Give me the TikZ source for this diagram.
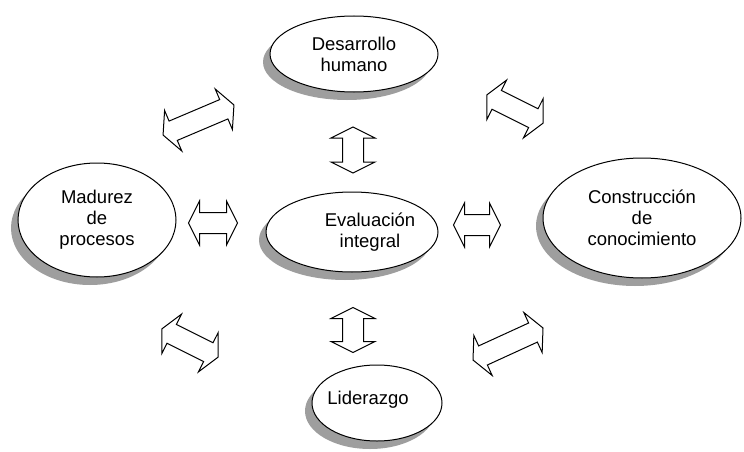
\documentclass[tikz,border=0pt]{standalone}
\usepackage{fontspec}
\setmainfont{Liberation Sans}
\usetikzlibrary{shapes.geometric,shadows}

\tikzset{
  bubble/.style={ellipse, draw=black, line width=1pt, fill=white, align=center,
    inner sep=0pt, font=\fontsize{18.5}{21}\selectfont,
    drop shadow={shadow xshift=-7pt, shadow yshift=-8pt, fill=black!38, opacity=1}},
  arrowline/.style={draw=black, line width=1pt, line join=miter, fill=white},
  % two-headed block arrow of length #1, centred on the pic origin
  pics/twoway/.style={code={
    \draw[arrowline] (-#1/2,0) -- ++(11,22) -- ++(0,-11.5) -- (#1/2-11,10.5)
      -- ++(0,11.5) -- (#1/2,0) -- ++(-11,-22) -- ++(0,11.5)
      -- (-#1/2+11,-10.5) -- ++(0,-11.5) -- cycle;
  }}
}

\begin{document}
\begin{tikzpicture}[x=1pt, y=-1pt]
\useasboundingbox (0,0) rectangle (744,452);

% the five themes
\node[bubble, minimum width=168pt, minimum height=76pt] (des) at (354,54) {Desarrollo\\humano};
\node[bubble, minimum width=158pt, minimum height=114pt] (mad) at (97,220) {Madurez\\de\\procesos};
\node[bubble, minimum width=172pt, minimum height=80pt] (eva) at (352,232) {};
\node[align=center, font=\fontsize{18.5}{21}\selectfont] (evatext) at ([xshift=18pt]eva.center) {Evaluación\\integral};
\node[bubble, minimum width=198pt, minimum height=120pt] (con) at (642,218) {Construcción\\de\\conocimiento};
\node[bubble, minimum width=130pt, minimum height=76pt] (lid) at (377,403) {};
\node[font=\fontsize{18.5}{21}\selectfont] (lidtext) at ([xshift=-9pt,yshift=3pt]lid.center) {Liderazgo};

% two-way relations
\pic[rotate=23] (a1) at (198.5,120) {twoway=77};
\pic[rotate=-26.6] (a2) at (515,109) {twoway=63};
\pic (a3) at (213,223) {twoway=49};
\pic (a4) at (477,225) {twoway=47};
\pic[rotate=90] (a5) at (353,150) {twoway=46};
\pic[rotate=90] (a6) at (353,330) {twoway=45};
\pic[rotate=-26.6] (a7) at (190,343) {twoway=63};
\pic[rotate=24.6] (a8) at (508,344) {twoway=77};
\end{tikzpicture}
\end{document}
